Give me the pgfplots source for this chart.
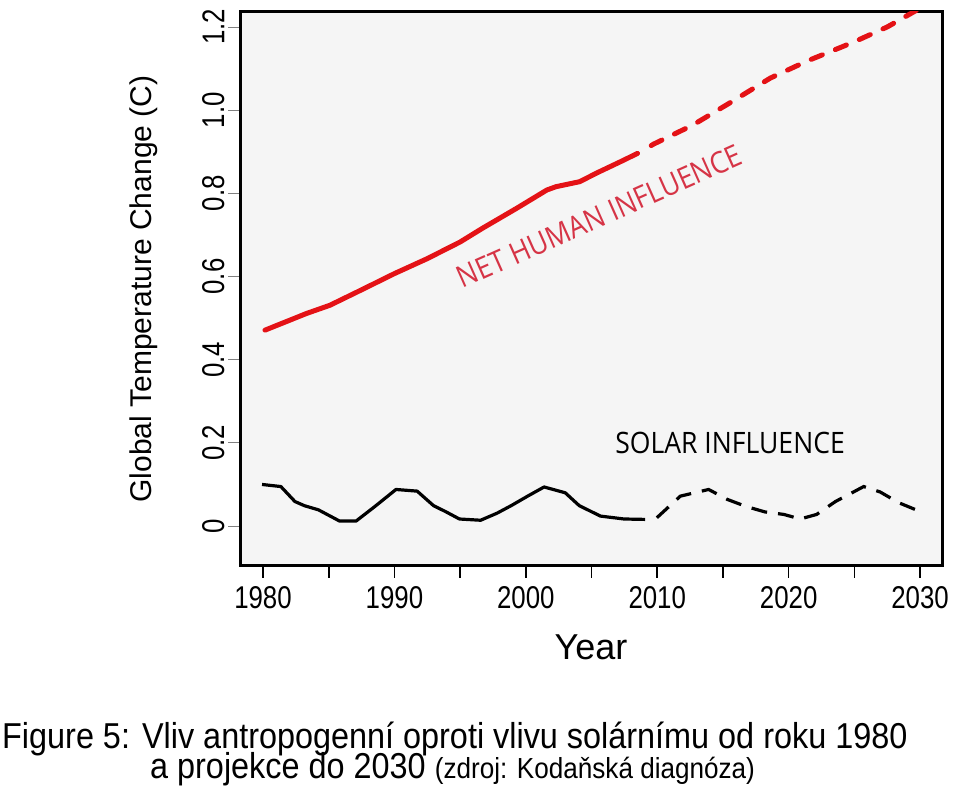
\documentclass[border=0pt]{standalone}
\usepackage{fontspec}
\setmainfont{Liberation Sans}
\newfontfamily\condfont[FakeStretch=0.82]{Liberation Sans}
\newfontfamily\capfont[FakeStretch=0.9]{Liberation Sans}
\newfontfamily\labfont[FakeStretch=0.9]{Open Sans}
\usepackage{pgfplots}
\pgfplotsset{compat=1.18}
\definecolor{bgc}{RGB}{245,245,245}
\definecolor{linered}{RGB}{228,18,22}
\definecolor{textred}{RGB}{214,52,70}
\begin{document}
\begin{tikzpicture}
\useasboundingbox (0pt,0pt) rectangle (960pt,789pt);
\begin{axis}[
  at={(240pt,223pt)}, anchor=south west,
  scale only axis, width=702pt, height=554pt,
  xmin=1978.25, xmax=2031.67, ymin=-0.096, ymax=1.236,
  axis background/.style={fill=bgc},
  axis line style={line width=3pt},
  tick align=outside, tick pos=left, major tick length=12pt,
  xtick={1980,1985,1990,1995,2000,2005,2010,2015,2020,2025,2030},
  xticklabels={1980,,1990,,2000,,2010,,2020,,2030},
  ytick={0,0.2,0.4,0.6,0.8,1.0,1.2},
  yticklabels={0,0.2,0.4,0.6,0.8,1.0,1.2},
  x tick style={black, line width=1.6pt},
  y tick style={gray, line width=0.8pt},
  x tick label style={font=\condfont\fontsize{31.5}{31.5}\selectfont, yshift=-5pt},
  y tick label style={font=\condfont\fontsize{31.5}{31.5}\selectfont, rotate=90, anchor=south},
  xlabel={Year}, ylabel={Global Temperature Change (C)},
  xlabel style={at={(axis description cs:0.5,-0.168)}, anchor=base, font=\fontsize{36}{36}\selectfont},
  ylabel style={at={(axis description cs:-0.1368,0.5)}, anchor=center, font=\fontsize{30}{30}\selectfont},
  clip=true,
]
% net human influence, observed
\addplot[linered, line width=5pt, line cap=round, line join=round] coordinates {
(1980.15,0.471) (1983.3,0.511) (1985.1,0.531) (1987.5,0.568) (1990.0,0.607)
(1992.5,0.643) (1995.0,0.683) (1996.7,0.716) (1999.3,0.764) (2001.6,0.808)
(2002.3,0.816) (2004.1,0.828) (2005.4,0.849) (2007.2,0.876) (2008.5,0.896)
};
% net human influence, projection
\addplot[linered, line width=5pt, line cap=round, dash pattern=on 12pt off 14pt, dash phase=-10pt] coordinates {
(2008.9,0.902) (2009.7,0.918) (2012.7,0.964) (2015.5,1.017) (2018.6,1.077)
(2021.4,1.118) (2024.9,1.163) (2027.5,1.200) (2030.0,1.245)
};
% solar influence, observed
\addplot[black, line width=3.2pt, line join=round] coordinates {
(1979.93,0.100) (1981.36,0.095) (1982.43,0.059) (1983.15,0.049) (1984.22,0.039)
(1985.83,0.012) (1987.08,0.012) (1988.51,0.047) (1990.12,0.088) (1991.73,0.084)
(1992.98,0.049) (1993.88,0.035) (1994.95,0.017) (1996.56,0.014) (1997.81,0.031)
(1998.88,0.049) (2000.14,0.072) (2001.39,0.094) (2003.0,0.080) (2004.07,0.049)
(2005.68,0.024) (2007.47,0.017) (2009.08,0.016)
};
% solar influence, projection
\addplot[black, line width=3.2pt, dash pattern=on 16pt off 11pt] coordinates {
(2009.97,0.020) (2011.76,0.072) (2013.91,0.088) (2015.34,0.064) (2016.77,0.047)
(2018.2,0.034) (2019.63,0.028) (2020.88,0.017) (2022.13,0.028) (2023.56,0.059)
(2025.71,0.095) (2026.96,0.082) (2028.39,0.056) (2030.0,0.035)
};
\node[rotate=24, textred, font=\labfont\fontsize{30}{30}\selectfont, inner sep=0pt] at (axis cs:2005.6,0.745) {NET HUMAN INFLUENCE};
\node[black, font=\labfont\fontsize{29.5}{29.5}\selectfont, inner sep=0pt] at (axis cs:2015.54,0.1995) {SOLAR INFLUENCE};
\end{axis}
\node[anchor=base west, inner sep=0pt, font=\capfont\fontsize{36}{36}\selectfont] at (2pt,41pt) {Figure 5: Vliv antropogenní oproti vlivu solárnímu od roku 1980};
\node[anchor=base west, inner sep=0pt, font=\capfont\fontsize{36}{36}\selectfont] at (150pt,11pt) {a projekce do 2030 {\fontsize{29}{29}\selectfont (zdroj: Kodaňská diagnóza)}};
\end{tikzpicture}
\end{document}
